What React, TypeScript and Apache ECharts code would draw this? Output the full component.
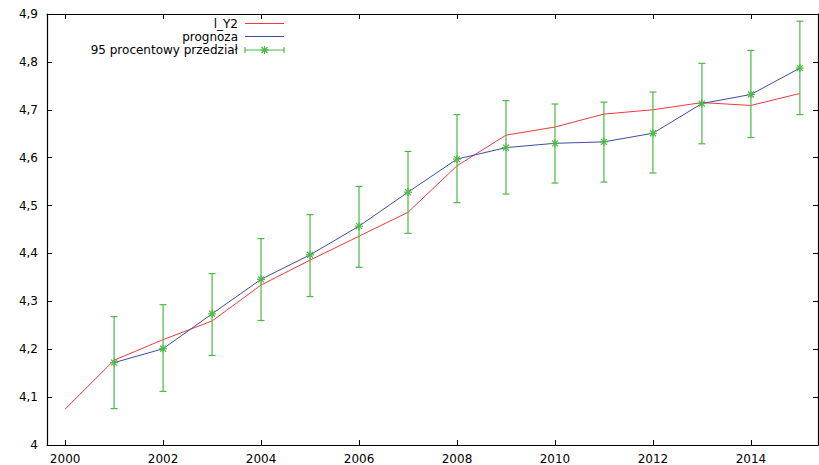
import React, { useEffect, useRef } from "react";
import * as echarts from "echarts";

const years = [2000, 2001, 2002, 2003, 2004, 2005, 2006, 2007, 2008, 2009, 2010, 2011, 2012, 2013, 2014, 2015];
const lY2 = [4.075, 4.177, 4.220, 4.259, 4.334, 4.386, 4.436, 4.486, 4.583, 4.647, 4.664, 4.691, 4.700, 4.715, 4.709, 4.734];
const prognoza = [null, 4.172, 4.201, 4.274, 4.346, 4.397, 4.457, 4.528, 4.597, 4.621, 4.630, 4.633, 4.651, 4.713, 4.732, 4.787];
const lower = [null, 4.076, 4.112, 4.187, 4.260, 4.310, 4.371, 4.442, 4.506, 4.524, 4.547, 4.549, 4.568, 4.629, 4.642, 4.690];
const upper = [null, 4.268, 4.293, 4.358, 4.431, 4.481, 4.540, 4.613, 4.690, 4.719, 4.712, 4.716, 4.737, 4.797, 4.824, 4.885];
const xTicks = [2000, 2002, 2004, 2006, 2008, 2010, 2012, 2014];
const legendNames = ["l_Y2", "prognoza", "95 procentowy przedział"];

const RED = "#ee3a3a";
const BLUE = "#3d4da3";
const GREEN = "#4cb944";
const FONT = "DejaVu Sans";

export default function App() {
  const ref = useRef<HTMLDivElement>(null);
  useEffect(() => {
    const chart = echarts.init(ref.current!, null, { renderer: "svg" });
    const redData = years.map((y, i) => [y, lY2[i]]);
    const blueData = years.map((y, i) => [y, prognoza[i]]).filter((d) => d[1] != null);
    const errData = years
      .map((y, i) => [y, prognoza[i], lower[i], upper[i]])
      .filter((d) => d[1] != null);

    const tickCommon = { show: true, inside: true, length: 5, lineStyle: { color: "#000", width: 1 } };
    const lineCommon = { show: true, onZero: false, lineStyle: { color: "#000", width: 1.2 } };

    const asterisk = (cx: number, cy: number, r: number, style: any) => {
      const d = r * 0.75;
      return [
        { type: "line", shape: { x1: cx - r, y1: cy, x2: cx + r, y2: cy }, style },
        { type: "line", shape: { x1: cx, y1: cy - r, x2: cx, y2: cy + r }, style },
        { type: "line", shape: { x1: cx - d, y1: cy - d, x2: cx + d, y2: cy + d }, style },
        { type: "line", shape: { x1: cx - d, y1: cy + d, x2: cx + d, y2: cy - d }, style },
      ];
    };

    const legendY = [23.5, 36.5, 50];
    const legendColors = [RED, BLUE, GREEN];
    const lx1 = 245, lx2 = 284;
    const gStyle = { stroke: GREEN, lineWidth: 1.2, fill: "none" };
    const graphics: any[] = [];
    legendNames.forEach((name, i) => {
      graphics.push({
        type: "text",
        style: {
          text: name,
          x: 238,
          y: legendY[i],
          align: "right",
          verticalAlign: "middle",
          fill: "#000",
          font: `12px "${FONT}"`,
        },
      });
      graphics.push({
        type: "line",
        shape: { x1: lx1, y1: legendY[i], x2: lx2, y2: legendY[i] },
        style: { stroke: legendColors[i], lineWidth: 1 },
      });
    });
    graphics.push({ type: "line", shape: { x1: lx1, y1: legendY[2] - 3, x2: lx1, y2: legendY[2] + 3 }, style: gStyle });
    graphics.push({ type: "line", shape: { x1: lx2, y1: legendY[2] - 3, x2: lx2, y2: legendY[2] + 3 }, style: gStyle });
    asterisk((lx1 + lx2) / 2, legendY[2], 4, gStyle).forEach((g) => graphics.push(g));

    const yFmt = (v: number) => String(Math.round(v * 10) / 10).replace(".", ",");

    chart.setOption({
      animation: false,
      backgroundColor: "#fff",
      grid: { left: 47, right: 1, top: 14, bottom: 19.5, containLabel: false },
      xAxis: [
        {
          type: "value",
          min: 1999.63,
          max: 2015.37,
          position: "bottom",
          axisLine: lineCommon,
          axisTick: { ...tickCommon, customValues: xTicks },
          axisLabel: {
            show: true,
            customValues: xTicks,
            formatter: (v: number) => String(v),
            color: "#000",
            fontFamily: FONT,
            fontSize: 12,
            margin: 8,
          },
          splitLine: { show: false },
        },
        {
          type: "value",
          min: 1999.63,
          max: 2015.37,
          position: "top",
          axisLine: lineCommon,
          axisTick: { ...tickCommon, customValues: xTicks },
          axisLabel: { show: false },
          splitLine: { show: false },
        },
      ],
      yAxis: [
        {
          type: "value",
          min: 4,
          max: 4.9,
          interval: 0.1,
          position: "left",
          axisLine: lineCommon,
          axisTick: tickCommon,
          axisLabel: {
            show: true,
            formatter: yFmt,
            color: "#000",
            fontFamily: FONT,
            fontSize: 12,
            margin: 9,
          },
          splitLine: { show: false },
        },
        {
          type: "value",
          min: 4,
          max: 4.9,
          interval: 0.1,
          position: "right",
          axisLine: lineCommon,
          axisTick: tickCommon,
          axisLabel: { show: false },
          splitLine: { show: false },
        },
      ],
      graphic: graphics,
      series: [
        {
          name: legendNames[0],
          type: "line",
          data: redData,
          showSymbol: false,
          lineStyle: { color: RED, width: 1 },
          itemStyle: { color: RED },
          z: 2,
        },
        {
          name: legendNames[1],
          type: "line",
          data: blueData,
          showSymbol: false,
          lineStyle: { color: BLUE, width: 1 },
          itemStyle: { color: BLUE },
          z: 3,
        },
        {
          name: legendNames[2],
          type: "custom",
          data: errData,
          encode: { x: 0, y: [1, 2, 3] },
          z: 4,
          renderItem: (params: any, api: any) => {
            const x = api.value(0);
            const pc = api.coord([x, api.value(1)]);
            const pl = api.coord([x, api.value(2)]);
            const ph = api.coord([x, api.value(3)]);
            const cap = 3.5;
            const children: any[] = [
              { type: "line", shape: { x1: pl[0], y1: pl[1], x2: ph[0], y2: ph[1] }, style: gStyle },
              { type: "line", shape: { x1: pl[0] - cap, y1: pl[1], x2: pl[0] + cap, y2: pl[1] }, style: gStyle },
              { type: "line", shape: { x1: ph[0] - cap, y1: ph[1], x2: ph[0] + cap, y2: ph[1] }, style: gStyle },
              ...asterisk(pc[0], pc[1], 4, gStyle),
            ];
            return { type: "group", children };
          },
        },
      ],
    });
    return () => chart.dispose();
  }, []);
  return (
    <div
      ref={ref}
      style={{ position: "fixed", left: 0, top: 0, width: 819, height: 465, background: "#fff" }}
    />
  );
}
